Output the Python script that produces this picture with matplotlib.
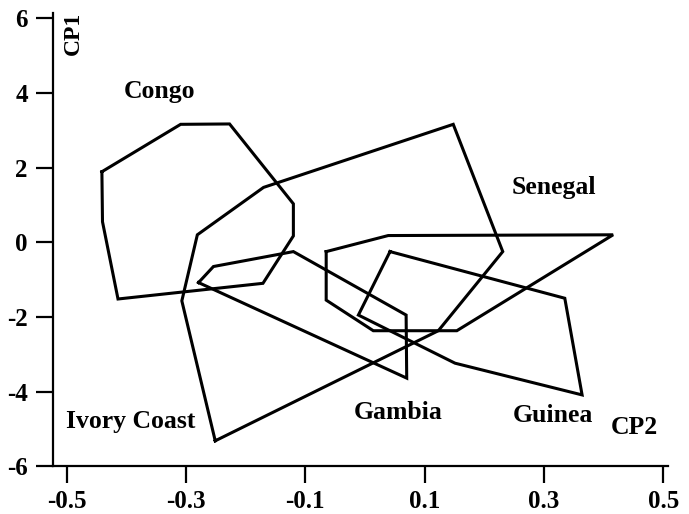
import matplotlib
matplotlib.use("Agg")
import matplotlib.pyplot as plt

plt.rcParams['font.family'] = ['Liberation Serif', 'DejaVu Serif']
plt.rcParams['font.weight'] = 'bold'
plt.rcParams['axes.unicode_minus'] = False

# polygon outlines (CP2, CP1)
congo_x = [-0.441, -0.309, -0.227, -0.120, -0.120, -0.171, -0.414, -0.440]
congo_y = [1.89, 3.16, 3.17, 1.03, 0.17, -1.10, -1.52, 0.55]

ivory_x = [-0.251, -0.307, -0.281, -0.170, 0.148, 0.231, 0.123]
ivory_y = [-5.32, -1.57, 0.20, 1.47, 3.16, -0.25, -2.37]

senegal_x = [-0.065, 0.039, 0.416, 0.154, 0.014, -0.065]
senegal_y = [-0.25, 0.18, 0.20, -2.37, -2.37, -1.55]

gambia_x = [-0.279, -0.254, -0.120, 0.069, 0.070]
gambia_y = [-1.08, -0.65, -0.25, -1.95, -3.64]

guinea_x = [0.042, 0.335, 0.364, 0.151, -0.011]
guinea_y = [-0.25, -1.50, -4.09, -3.24, -1.95]

x_ticks = [-0.5, -0.3, -0.1, 0.1, 0.3, 0.5]
y_ticks = [-6, -4, -2, 0, 2, 4, 6]

labels = ["Congo", "Senegal", "Ivory Coast", "Gambia", "Guinea"]
label_x = [-0.344, 0.317, -0.392, 0.055, 0.315]
label_y = [4.03, 1.46, -4.79, -4.57, -4.65]

fig = plt.figure(figsize=(6.89, 5.14), dpi=100)
ax = fig.add_axes([0.0769, 0.0930, 0.8926, 0.8815])

for xs, ys in [(congo_x, congo_y), (ivory_x, ivory_y), (senegal_x, senegal_y),
               (gambia_x, gambia_y), (guinea_x, guinea_y)]:
    ax.plot(xs + xs[:1], ys + ys[:1], color='black', lw=2.2, solid_joinstyle='miter')

for name, lx, ly in zip(labels, label_x, label_y):
    ax.text(lx, ly, name, fontsize=18.5, fontweight='bold', ha='center', va='center')

ax.text(0.451, -4.95, "CP2", fontsize=18.5, fontweight='bold', ha='center', va='center')
ax.text(-0.489, 5.61, "CP1", fontsize=17, fontweight='bold', ha='center', va='center',
        rotation=90)

ax.set_xlim(-0.523, 0.508)
ax.set_ylim(-6, 6.14)
ax.set_xticks(x_ticks)
ax.set_xticklabels([f"{t:.1f}" for t in x_ticks])
ax.set_yticks(y_ticks)
ax.set_yticklabels([str(t) for t in y_ticks])

for s in ['top', 'right']:
    ax.spines[s].set_visible(False)
for s in ['left', 'bottom']:
    ax.spines[s].set_linewidth(1.6)

ax.tick_params(axis='both', direction='out', length=12, width=1.6, labelsize=18)
ax.tick_params(axis='x', pad=5)
ax.tick_params(axis='y', pad=6)
for lab in ax.get_xticklabels() + ax.get_yticklabels():
    lab.set_fontweight('bold')

fig.savefig("out.png", dpi=100)
